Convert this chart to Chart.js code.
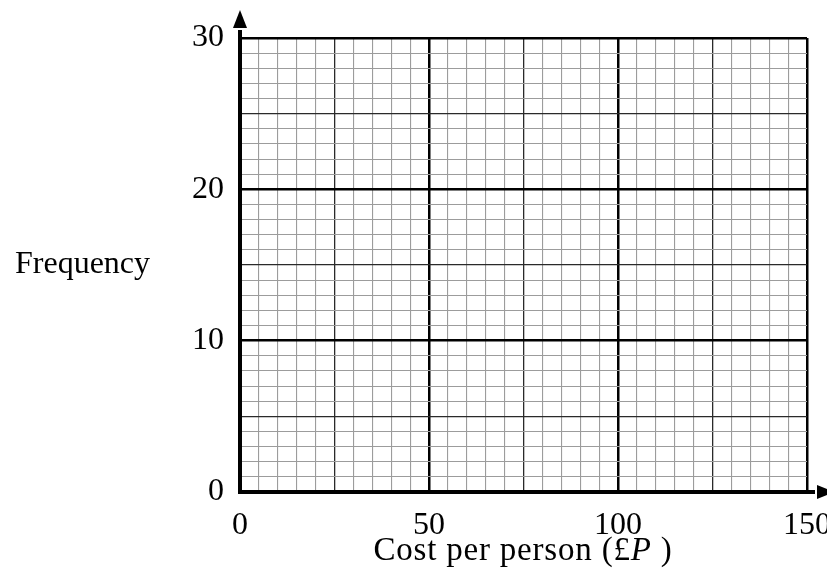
<!DOCTYPE html>
<html>
<head>
<meta charset="utf-8">
<script src="https://cdn.jsdelivr.net/npm/chart.js@4"></script>
<style>
  html, body { margin: 0; padding: 0; background: #fff; }
  #wrap { width: 827px; height: 568px; }
</style>
</head>
<body>
<div id="wrap"><canvas id="gridChart"></canvas></div>
<script>
// axis ranges and labelled ticks
const xLabels = [0, 50, 100, 150];
const yLabels = [0, 10, 20, 30];
const xMinorStep = 5;   // small squares across
const yMinorStep = 1;   // small squares up
const xMidStep = 25;
const yMidStep = 5;
const xTitle = ['Cost per person (£', 'P', ' )'];
const yTitle = 'Frequency';

const serif = '"Liberation Serif", "Times New Roman", serif';

function gridStyle(value, major, mid) {
    if (value % major === 0) return { color: '#000', width: 2.5 };
    if (value % mid === 0) return { color: '#2a2a2a', width: 1.3 };
    return { color: '#9c9c9c', width: 1.1 };
}

// axes with arrows and the titles
const axesPlugin = {
    id: 'axesPlugin',
    afterDraw(chart) {
        const c = chart.ctx;
        const xs = chart.scales.x, ys = chart.scales.y;
        const x0 = xs.getPixelForValue(xLabels[0]);
        const y0 = ys.getPixelForValue(yLabels[0]);
        const top = ys.getPixelForValue(yLabels[yLabels.length - 1]);
        const right = xs.getPixelForValue(xLabels[xLabels.length - 1]);
        c.save();
        c.strokeStyle = '#000';
        c.fillStyle = '#000';
        c.lineWidth = 4;
        c.lineCap = 'butt';
        // y axis
        c.beginPath();
        c.moveTo(x0, y0 + 2);
        c.lineTo(x0, top - 8);
        c.stroke();
        c.beginPath();
        c.moveTo(x0 - 7, top - 10);
        c.lineTo(x0 + 7, top - 10);
        c.lineTo(x0, top - 28);
        c.closePath();
        c.fill();
        // x axis
        c.beginPath();
        c.moveTo(x0 - 2, y0);
        c.lineTo(right + 8, y0);
        c.stroke();
        c.beginPath();
        c.moveTo(right + 10, y0 - 7);
        c.lineTo(right + 10, y0 + 7);
        c.lineTo(right + 28, y0);
        c.closePath();
        c.fill();

        // titles
        c.textBaseline = 'alphabetic';
        c.textAlign = 'left';
        c.font = '32px ' + serif;
        c.fillText(yTitle, 15, 273);

        c.letterSpacing = '0.8px';
        const fonts = ['33px ' + serif, 'italic 33px ' + serif, '33px ' + serif];
        let total = 0;
        const widths = xTitle.map((t, i) => {
            c.font = fonts[i];
            const w = c.measureText(t).width;
            total += w;
            return w;
        });
        let x = 523 - total / 2;
        xTitle.forEach((t, i) => {
            c.font = fonts[i];
            c.fillText(t, x, 560);
            x += widths[i];
        });
        c.restore();
    }
};

new Chart(document.getElementById('gridChart').getContext('2d'), {
    type: 'scatter',
    data: { datasets: [{ data: [], showLine: false }] },
    options: {
        responsive: true,
        maintainAspectRatio: false,
        animation: false,
        layout: { padding: { top: 38, right: 20, left: 0, bottom: 0 } },
        plugins: { legend: { display: false }, tooltip: { enabled: false } },
        scales: {
            x: {
                type: 'linear',
                min: xLabels[0],
                max: xLabels[xLabels.length - 1],
                border: { display: false },
                grid: {
                    drawTicks: false,
                    color: ctx => gridStyle(ctx.tick.value, xLabels[1] - xLabels[0], xMidStep).color,
                    lineWidth: ctx => gridStyle(ctx.tick.value, xLabels[1] - xLabels[0], xMidStep).width
                },
                ticks: {
                    stepSize: xMinorStep,
                    autoSkip: false,
                    maxRotation: 0,
                    padding: 14,
                    color: '#000',
                    font: { family: serif, size: 32 },
                    callback: v => xLabels.includes(v) ? String(v) : ''
                },
                afterFit(scale) {
                    scale.height = 76;
                    scale.paddingLeft = 0;
                    scale.paddingRight = 0;
                }
            },
            y: {
                type: 'linear',
                min: yLabels[0],
                max: yLabels[yLabels.length - 1],
                border: { display: false },
                grid: {
                    drawTicks: false,
                    color: ctx => gridStyle(ctx.tick.value, yLabels[1] - yLabels[0], yMidStep).color,
                    lineWidth: ctx => gridStyle(ctx.tick.value, yLabels[1] - yLabels[0], yMidStep).width
                },
                ticks: {
                    stepSize: yMinorStep,
                    autoSkip: false,
                    padding: 16,
                    color: '#000',
                    font: { family: serif, size: 32 },
                    callback: v => yLabels.includes(v) ? String(v) : ''
                },
                afterFit(scale) {
                    scale.width = 240;
                    scale.paddingTop = 0;
                    scale.paddingBottom = 0;
                }
            }
        }
    },
    plugins: [axesPlugin]
});
</script>
</body>
</html>
